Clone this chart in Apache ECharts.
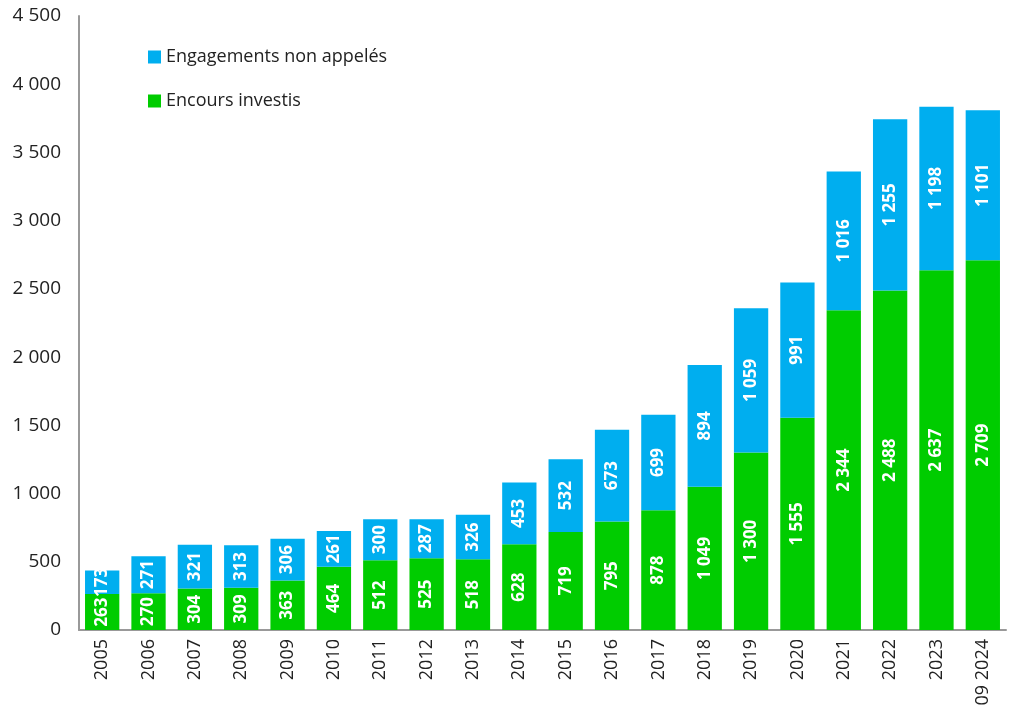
<!DOCTYPE html>
<html>
<head>
<meta charset="utf-8">
<script src="https://cdn.jsdelivr.net/npm/echarts@6/dist/echarts.min.js"></script>
<style>
  html, body { margin: 0; padding: 0; background: #fff; }
  #chart { width: 1014px; height: 717px; }
</style>
</head>
<body>
<div id="chart"></div>
<script>
let years = ['2005', '2006', '2007', '2008', '2009', '2010', '2011', '2012', '2013', '2014',
    '2015', '2016', '2017', '2018', '2019', '2020', '2021', '2022', '2023', '09 2024'];
let encours = [263, 270, 304, 309, 363, 464, 512, 525, 518, 628,
    719, 795, 878, 1049, 1300, 1555, 2344, 2488, 2637, 2709];
let engagements = [173, 271, 321, 313, 306, 261, 300, 287, 326, 453,
    532, 673, 699, 894, 1059, 991, 1016, 1255, 1198, 1101];
let yTicks = [0, 500, 1000, 1500, 2000, 2500, 3000, 3500, 4000, 4500];

let formatNumber = function(num) {
    return num.toString().replace(/\B(?=(\d{3})+$)/g, ' ');
};

function initChart() {
    let myChart = echarts.init(document.getElementById('chart'));
    let font = '"Open Sans", sans-serif';
    let barLabel = {
        show: true,
        position: 'inside',
        rotate: 90,
        color: '#fff',
        fontWeight: 'bold',
        fontSize: 17,
        fontFamily: font,
        formatter: p => formatNumber(p.value)
    };

    let option = {
        animation: false,
        color: ['#00cc00', '#00aeef'],
        legend: {
            orient: 'vertical',
            left: 143,
            top: 43,
            itemGap: 26,
            itemWidth: 13,
            itemHeight: 13,
            icon: 'rect',
            data: ['Engagements non appelés', 'Encours investis'],
            textStyle: { fontSize: 18, color: '#222', fontFamily: font }
        },
        grid: { left: 79, right: 8, top: 16, bottom: 87, containLabel: false },
        xAxis: {
            type: 'category',
            data: years,
            axisLine: { lineStyle: { color: '#999', width: 2 } },
            axisTick: { show: false },
            axisLabel: {
                rotate: 90,
                fontSize: 18,
                color: '#222',
                fontFamily: font,
                margin: 9
            }
        },
        yAxis: {
            type: 'value',
            min: yTicks[0],
            max: yTicks[yTicks.length - 1],
            interval: 500,
            splitLine: { show: false },
            axisLine: { show: true, lineStyle: { color: '#999', width: 2 } },
            axisTick: { show: false },
            axisLabel: {
                fontSize: 19,
                color: '#222',
                fontFamily: font,
                margin: 18,
                formatter: v => formatNumber(v)
            }
        },
        series: [
            {
                name: 'Encours investis',
                type: 'bar',
                stack: 'total',
                barCategoryGap: '26%',
                data: encours,
                label: barLabel
            },
            {
                name: 'Engagements non appelés',
                type: 'bar',
                stack: 'total',
                barCategoryGap: '26%',
                data: engagements,
                label: barLabel
            }
        ]
    };

    myChart.setOption(option);
    return myChart;
}

initChart();
</script>
</body>
</html>
